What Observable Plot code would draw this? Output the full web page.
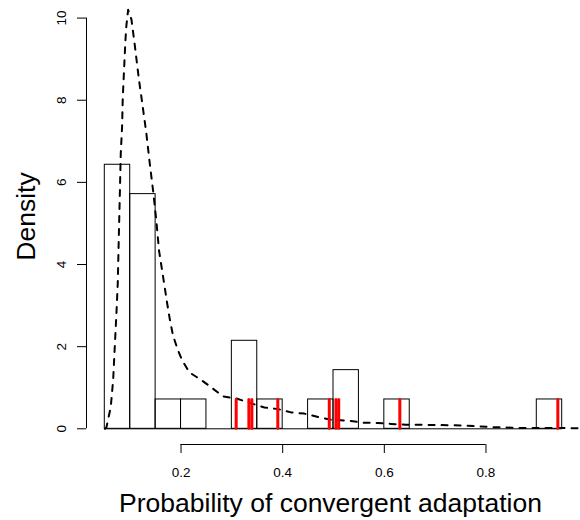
<!DOCTYPE html>
<html><head><meta charset="utf-8">
<script src="https://cdn.jsdelivr.net/npm/d3@7"></script>
<script src="https://cdn.jsdelivr.net/npm/@observablehq/plot@0.6"></script>
<style>html,body{margin:0;padding:0;background:#fff} #chart svg{display:block}</style>
</head><body><div id="chart"></div>
<script>
// Histogram bins (left edges), bin width and counts
const binStarts = [0.05,0.10,0.15,0.20,0.25,0.30,0.35,0.40,0.45,0.50,0.55,0.60,0.65,0.70,0.75,0.80,0.85,0.90];
const binWidth = 0.05;
const binCounts = [9,8,1,1,0,3,1,0,1,2,0,1,0,0,0,0,0,1];

// Dashed density curve
const densityX = [0.0503,0.0533,0.0617,0.0664,0.0696,0.0729,0.0755,0.0774,0.0794,0.0814,0.0841,0.0853,0.0880,0.0906,0.0925,0.0959,
  0.1024,0.1096,0.1167,0.1240,0.1318,0.1383,0.1450,0.1514,0.1567,0.1646,0.1724,0.1776,0.1842,0.1941,0.2025,0.2168,0.2384,0.2594,0.2824,
  0.3085,0.3380,0.3641,0.3904,0.4165,0.4426,0.4721,0.4950,0.5278,0.5573,0.5867,0.6129,0.6423,0.6684,0.7568,0.7831,0.8157,0.8681,0.9205,0.9760,0.9900];
const densityY = [0.00,0.04,0.53,1.18,1.99,2.81,3.54,4.58,5.61,6.70,7.38,8.04,8.77,9.46,9.82,10.20,
  9.97,9.28,8.55,7.90,7.19,6.48,5.80,5.07,4.34,3.71,3.08,2.69,2.27,1.91,1.66,1.37,1.20,1.01,0.79,
  0.74,0.62,0.52,0.48,0.40,0.37,0.28,0.22,0.20,0.15,0.14,0.12,0.10,0.10,0.08,0.06,0.04,0.02,0.02,0.015,0.01];

// Observed values (red marks)
const observed = [0.3085,0.3335,0.3394,0.3904,0.4917,0.5048,0.5102,0.6305,0.9414];
const observedHeight = 0.7;

// Axes
const xTicks = [0.2,0.4,0.6,0.8];
const xTickLabels = ["0.2","0.4","0.6","0.8"];
const yTicks = [0,2,4,6,8,10];
const yTickLabels = ["0","2","4","6","8","10"];
const xLabel = "Probability of convergent adaptation";
const yLabel = "Density";

const total = d3.sum(binCounts);
const bins = binStarts.map((x0, i) => ({x1: x0, x2: x0 + binWidth, density: binCounts[i] / (total * binWidth)}));
const curve = densityX.map((x, i) => ({x, y: densityY[i]}));
const binEdges = binStarts.concat([binStarts[binStarts.length - 1] + binWidth]);

const xDomain = [0.014, 0.986];
const yDomain = [-0.382, 10.428];
const font = "'Liberation Sans', Arial, Helvetica, sans-serif";

const chart = Plot.plot({
  width: 580,
  height: 520,
  marginLeft: 86,
  marginRight: 0,
  marginTop: 0,
  marginBottom: 76,
  style: {fontFamily: font, fontSize: "13.5px", background: "white", color: "black", overflow: "visible"},
  x: {domain: xDomain, axis: null},
  y: {domain: yDomain, axis: null},
  marks: [
    Plot.rect(bins.filter(b => b.density > 0), {x1: "x1", x2: "x2", y1: 0, y2: "density", fill: "none", stroke: "black", strokeWidth: 1}),
    Plot.ruleY([0], {x1: binEdges[0], x2: binEdges[binEdges.length - 1], stroke: "black", strokeWidth: 1}),
    Plot.line(curve, {x: "x", y: "y", stroke: "black", strokeWidth: 2, strokeDasharray: "6,7", curve: "linear"}),
    Plot.ruleX(observed, {x: d => d, y1: 0, y2: observedHeight, stroke: "#ff0000", strokeWidth: 3, strokeLinecap: "round"}),
    // axis lines
    Plot.ruleY([yDomain[0]], {x1: xTicks[0], x2: xTicks[xTicks.length - 1], stroke: "black", strokeWidth: 1}),
    Plot.ruleX([xDomain[0]], {y1: yTicks[0], y2: yTicks[yTicks.length - 1], stroke: "black", strokeWidth: 1}),
    Plot.axisX({ticks: xTicks, tickFormat: (d, i) => xTickLabels[i], tickSize: 9, tickPadding: 13.5, stroke: "black", fill: "black", fontSize: 13.5}),
    Plot.axisY({ticks: yTicks, tickFormat: (d, i) => yTickLabels[i], tickSize: 9, tickPadding: 12, tickRotate: -90, stroke: "black", fill: "black", fontSize: 13.5}),
    Plot.text([xLabel], {frameAnchor: "bottom", text: d => d, textAnchor: "middle", lineAnchor: "bottom", dx: -3, dy: 67.7, fontSize: 26.5, fill: "black"}),
    Plot.text([yLabel], {frameAnchor: "left", text: d => d, textAnchor: "middle", lineAnchor: "bottom", rotate: -90, dx: -52, dy: -6, fontSize: 26.5, fill: "black"})
  ]
});
document.getElementById("chart").appendChild(chart);
</script>
</body></html>
